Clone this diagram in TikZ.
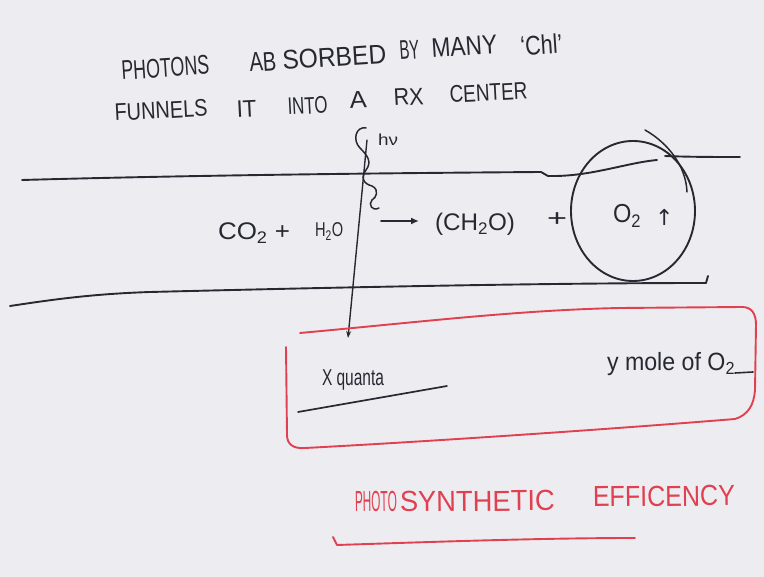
\documentclass[tikz,border=0pt]{standalone}
\usepackage{fontspec}
\usepackage{graphicx}
\setmainfont{Liberation Sans}
\newfontfamily\dvs{DejaVu Sans}
\usetikzlibrary{arrows.meta}
\definecolor{ink}{RGB}{40,40,50}
\definecolor{redink}{RGB}{224,64,80}
\definecolor{board}{RGB}{237,237,241}
\newsavebox\fitbox
\newcommand\fitw[2]{\begingroup\sbox\fitbox{#2}%
  \pgfmathsetmacro\fitr{#1/\wd\fitbox}%
  \edef\fitdo{\noexpand\addfontfeatures{FakeStretch=\fitr}}\fitdo #2\endgroup}
\begin{document}
\begin{tikzpicture}[x=1pt,y=-1pt,
  txt/.style={anchor=base west, inner sep=0pt, outer sep=0pt, text=ink},
  lineone/.style={txt, font=\fontsize{27}{30}\selectfont, rotate=3.8},
  linetwo/.style={txt, font=\fontsize{24}{27}\selectfont, rotate=3},
  bandtxt/.style={txt, font=\fontsize{24}{28}\selectfont},
  redtxt/.style={txt, text=redink, font=\fontsize{29}{32}\selectfont, rotate=0.6},
  boxtxt/.style={txt, font=\fontsize{24}{28}\selectfont},
  pen/.style={draw=ink, line width=1.9pt, line cap=round, line join=round},
  rpen/.style={draw=redink, line width=1.9pt, line cap=round, line join=round},
]
\fill[board] (0,0) rectangle (764,577);
\useasboundingbox (0,0) rectangle (764,577);

% heading line 1
\node[lineone] (w1) at (122,80) {\fitw{88}{PHOTONS}};
\node[lineone] (w2) at (250,72) {\fitw{27}{AB}};
\node[lineone] (w3) at (283,70) {\fitw{104}{SORBED}};
\node[lineone] (w4) at (400,60) {\fitw{20}{BY}};
\node[lineone] (w5) at (432,58) {\fitw{66}{MANY}};
\node[lineone] (w6) at (521,56) {\fitw{42}{‘Chl’}};
% heading line 2
\node[linetwo] (v1) at (115,121) {\fitw{93}{FUNNELS}};
\node[linetwo] (v2) at (237,118) {\fitw{20}{IT}};
\node[linetwo] (v3) at (288,115) {\fitw{40}{INTO}};
\node[linetwo] (v4) at (350,109) {\fitw{17}{A}};
\node[linetwo] (v5) at (394,106) {\fitw{30}{RX}};
\node[linetwo] (v6) at (450,103) {\fitw{78}{CENTER}};

% band
\draw[pen] (22,180) .. controls (200,175) and (400,173) .. (541,172) -- (548,176) .. controls (590,177) and (625,163) .. (657,160);
\draw[pen] (665,156) .. controls (690,157) and (715,157) .. (740,157);
\draw[pen] (10,306) .. controls (50,300) and (90,294) .. (150,292) .. controls (350,287) and (550,283) .. (706,283) -- (708,276);

% reaction
\node[bandtxt] (co2) at (218,240) {\fitw{72}{CO\textsubscript{2} +}};
\node[bandtxt, font=\fontsize{20}{24}\selectfont] (h2o) at (315,237) {\fitw{28}{H\textsubscript{2}O}};
\node[bandtxt] (ch2o) at (435,231) {\fitw{80}{(CH\textsubscript{2}O)}};
\node[bandtxt] (plus) at (547,227) {\fitw{20}{+}};
\node[bandtxt, font=\fontsize{26}{29}\selectfont] (o2) at (613,223) {\fitw{28}{O\textsubscript{2}}};
\node[bandtxt, font=\fontsize{22}{26}\selectfont] (up) at (655,226) {\dvs ↑};
\coordinate (ra1) at (381,221);
\coordinate (ra2) at (419,221);
\draw[pen, -{Latex[length=8pt,width=7pt]}] (ra1) -- (ra2);

% O2 circle
\draw[pen] (633,211) ellipse [x radius=62, y radius=70];
\draw[pen, line width=1.5pt] (645,130) .. controls (668,143) and (686,166) .. (687,192);

% photon
\node[bandtxt, font=\fontsize{16}{18}\selectfont] (hnu) at (378,146) {\fitw{20}{hν}};
\draw[pen, line width=1.5pt] (366,128) .. controls (356,126) and (352,140) .. (360,148) .. controls (368,156) and (372,162) .. (366,170) .. controls (360,178) and (364,184) .. (372,186) .. controls (380,190) and (376,198) .. (372,200) .. controls (368,204) and (372,212) .. (379,208);
\coordinate (vtop) at (367,140);
\coordinate (vtip) at (348,338);
\draw[pen, line width=1.4pt, -{Stealth[length=7pt,width=5pt]}] (vtop) -- (vtip);

% red box
\draw[rpen] (300,333) .. controls (420,322) and (520,310) .. (620,308) -- (742,307) .. controls (752,307) and (756,314) .. (756,325) -- (755,390) .. controls (754,405) and (748,415) .. (735,419) .. controls (600,430) and (420,442) .. (305,448) .. controls (293,449) and (287,444) .. (287,435) -- (286,347);
\node[boxtxt, font=\fontsize{23}{26}\selectfont] (xq) at (322,386) {\fitw{62}{X quanta}};
\coordinate (ul1) at (298,412);
\coordinate (ul2) at (447,386);
\draw[pen, line width=1.7pt] (ul1) -- (ul2);
\node[boxtxt, font=\fontsize{25}{28}\selectfont] (ym) at (607,371) {\fitw{128}{y mole of O\textsubscript{2}}};
\coordinate (tl1) at (735,373);
\coordinate (tl2) at (753,372);
\draw[pen, line width=1.6pt] (tl1) -- (tl2);

% efficiency
\node[redtxt] (r1) at (355,512) {\fitw{42}{PHOTO}};
\node[redtxt] (r2) at (400,512) {\fitw{155}{SYNTHETIC}};
\node[redtxt] (r3) at (593,507) {\fitw{142}{EFFICENCY}};
\coordinate (ru1) at (333,537);
\coordinate (ru2) at (635,538);
\draw[rpen] (ru1) -- (337,545) .. controls (430,542) and (540,538) .. (ru2);
\end{tikzpicture}
\end{document}
